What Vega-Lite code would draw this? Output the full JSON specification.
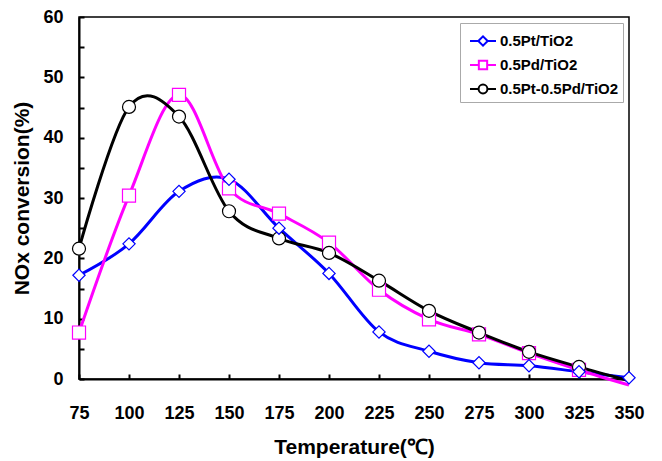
{
  "$schema": "https://vega.github.io/schema/vega-lite/v6.json",
  "width": 550,
  "height": 362,
  "autosize": "none",
  "padding": {"left": 79, "top": 17, "right": 33, "bottom": 82},
  "background": "white",
  "config": {
    "view": {"stroke": "black", "strokeWidth": 1.5},
    "axis": {
      "domainColor": "black", "domainWidth": 2, "tickColor": "black", "tickWidth": 2, "tickSize": -5,
      "grid": false, "labelFont": "Liberation Sans", "labelFontWeight": "bold", "labelFontSize": 18,
      "labelColor": "black", "titleFont": "Liberation Sans", "titleFontWeight": "bold", "titleFontSize": 21,
      "titleColor": "black"
    },
    "legend": {
      "labelFont": "Liberation Sans", "labelFontWeight": "bold", "labelFontSize": 15, "labelColor": "black"
    }
  },
  "data": {
    "values": [
      {"series": "0.5Pt/TiO2", "t": 75, "v": 17.2},
      {"series": "0.5Pt/TiO2", "t": 100, "v": 22.4},
      {"series": "0.5Pt/TiO2", "t": 125, "v": 31.1},
      {"series": "0.5Pt/TiO2", "t": 150, "v": 33.1},
      {"series": "0.5Pt/TiO2", "t": 175, "v": 25.0},
      {"series": "0.5Pt/TiO2", "t": 200, "v": 17.5},
      {"series": "0.5Pt/TiO2", "t": 225, "v": 7.8},
      {"series": "0.5Pt/TiO2", "t": 250, "v": 4.6},
      {"series": "0.5Pt/TiO2", "t": 275, "v": 2.7},
      {"series": "0.5Pt/TiO2", "t": 300, "v": 2.2},
      {"series": "0.5Pt/TiO2", "t": 325, "v": 1.2},
      {"series": "0.5Pt/TiO2", "t": 350, "v": 0.2},
      {"series": "0.5Pd/TiO2", "t": 75, "v": 7.7},
      {"series": "0.5Pd/TiO2", "t": 100, "v": 30.4},
      {"series": "0.5Pd/TiO2", "t": 125, "v": 47.1},
      {"series": "0.5Pd/TiO2", "t": 150, "v": 31.6},
      {"series": "0.5Pd/TiO2", "t": 175, "v": 27.4},
      {"series": "0.5Pd/TiO2", "t": 200, "v": 22.6},
      {"series": "0.5Pd/TiO2", "t": 225, "v": 14.8},
      {"series": "0.5Pd/TiO2", "t": 250, "v": 9.9},
      {"series": "0.5Pd/TiO2", "t": 275, "v": 7.4},
      {"series": "0.5Pd/TiO2", "t": 300, "v": 4.3},
      {"series": "0.5Pd/TiO2", "t": 325, "v": 1.5},
      {"series": "0.5Pd/TiO2", "t": 350, "v": -1.0},
      {"series": "0.5Pt-0.5Pd/TiO2", "t": 75, "v": 21.6},
      {"series": "0.5Pt-0.5Pd/TiO2", "t": 100, "v": 45.1},
      {"series": "0.5Pt-0.5Pd/TiO2", "t": 125, "v": 43.5},
      {"series": "0.5Pt-0.5Pd/TiO2", "t": 150, "v": 27.8},
      {"series": "0.5Pt-0.5Pd/TiO2", "t": 175, "v": 23.3},
      {"series": "0.5Pt-0.5Pd/TiO2", "t": 200, "v": 20.9},
      {"series": "0.5Pt-0.5Pd/TiO2", "t": 225, "v": 16.3},
      {"series": "0.5Pt-0.5Pd/TiO2", "t": 250, "v": 11.3},
      {"series": "0.5Pt-0.5Pd/TiO2", "t": 275, "v": 7.7},
      {"series": "0.5Pt-0.5Pd/TiO2", "t": 300, "v": 4.5},
      {"series": "0.5Pt-0.5Pd/TiO2", "t": 325, "v": 2.0},
      {"series": "0.5Pt-0.5Pd/TiO2", "t": 350, "v": -0.3}
    ]
  },
  "encoding": {
    "x": {
      "field": "t", "type": "quantitative",
      "scale": {"domain": [75, 350], "nice": false, "zero": false},
      "axis": {"values": [75, 100, 125, 150, 175, 200, 225, 250, 275, 300, 325, 350], "labelPadding": 30, "title": "Temperature(℃)", "titlePadding": 14, "labelFlush": false}
    },
    "y": {
      "field": "v", "type": "quantitative",
      "scale": {"domain": [0, 60], "nice": false},
      "axis": {"values": [0, 5, 10, 15, 20, 25, 30, 35, 40, 45, 50, 55, 60], "labelExpr": "datum.value % 10 === 0 ? datum.label : ''", "labelPadding": 21, "title": "NOx conversion(%)", "titlePadding": 10, "labelFlush": false}
    }
  },
  "layer": [
    {
      "mark": {"type": "line", "interpolate": "cardinal", "strokeWidth": 3},
      "encoding": {
        "color": {
          "field": "series", "type": "nominal",
          "scale": {"domain": ["0.5Pt/TiO2", "0.5Pd/TiO2", "0.5Pt-0.5Pd/TiO2"], "range": ["#0000ff", "#ff00ff", "#000000"]},
          "legend": {
            "title": null, "orient": "top-right", "offset": 6, "padding": 4,
            "strokeColor": "#aaaaaa", "fillColor": "white", "symbolSize": 676, "symbolStrokeWidth": 2,
            "rowPadding": 1, "labelOffset": 3, "symbolOffset": 5,
            "encode": {
              "symbols": {
                "update": {
                  "shape": {"signal": "datum.value === '0.5Pt/TiO2' ? 'M-1,0H-0.36M0.36,0H1M-0.36,0L0,-0.36L0.36,0L0,0.36Z' : datum.value === '0.5Pd/TiO2' ? 'M-1,0H-0.32M0.32,0H1M-0.32,-0.32H0.32V0.32H-0.32Z' : 'M-1,0H-0.34M0.34,0H1M-0.34,0A0.34,0.34,0,1,0,0.34,0A0.34,0.34,0,1,0,-0.34,0Z'"},
                  "fill": {"value": "white"},
                  "fillOpacity": {"value": 1},
                  "strokeWidth": {"value": 2}
                }
              }
            }
          }
        }
      }
    },
    {
      "transform": [{"filter": "datum.series === '0.5Pd/TiO2' && datum.v >= 0"}],
      "mark": {"type": "point", "shape": "square", "size": 170, "filled": false, "fill": "white", "fillOpacity": 1, "stroke": "#ff00ff", "strokeWidth": 1.2, "opacity": 1}
    },
    {
      "transform": [{"filter": "datum.series === '0.5Pt-0.5Pd/TiO2' && datum.v >= 0"}],
      "mark": {"type": "point", "shape": "circle", "size": 169, "filled": false, "fill": "white", "fillOpacity": 1, "stroke": "#000000", "strokeWidth": 1.2, "opacity": 1}
    },
    {
      "transform": [{"filter": "datum.series === '0.5Pt/TiO2' && datum.v >= 0"}],
      "mark": {"type": "point", "shape": "diamond", "size": 150, "filled": false, "fill": "white", "fillOpacity": 1, "stroke": "#0000ff", "strokeWidth": 1.2, "opacity": 1}
    }
  ]
}
